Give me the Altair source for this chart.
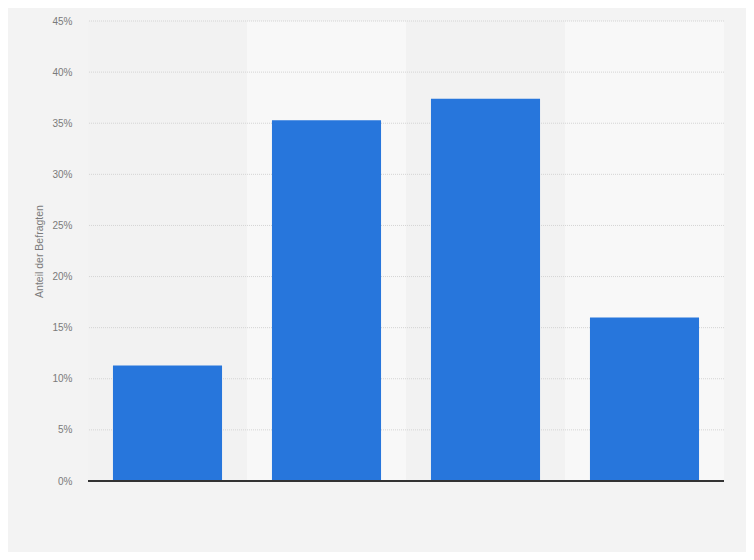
import altair as alt
import pandas as pd

categories = ["Kategorie 1", "Kategorie 2", "Kategorie 3", "Kategorie 4"]
values = [11.3, 35.3, 37.4, 16.0]
band_colors = ["#f2f2f2", "#f8f8f8", "#f2f2f2", "#f8f8f8"]
y_ticks = [0, 5, 10, 15, 20, 25, 30, 35, 40, 45]

df = pd.DataFrame({"cat": categories, "val": values, "band": band_colors, "top": [45] * 4, "zero": [0] * 4})
grid_df = pd.DataFrame({"t": [t for t in y_ticks if t > 0]})

xenc = alt.X("cat:N", sort=categories, title=None,
             scale=alt.Scale(paddingInner=0, paddingOuter=0),
             axis=alt.Axis(labels=False, ticks=False, domain=False, grid=False))
yscale = alt.Scale(domain=[0, 45], nice=False)

bands = alt.Chart(df).mark_rect().encode(
    x=xenc,
    y=alt.Y("zero:Q", scale=yscale, title="Anteil der Befragten",
            axis=alt.Axis(values=y_ticks, labelExpr="datum.value + '%'", grid=False,
                          domain=False, ticks=False, labelPadding=16,
                          labelColor="#7a7a7a", labelFontSize=10, labelFont="Liberation Sans",
                          titleColor="#7a7a7a", titleFontSize=10.5, titleFont="Liberation Sans",
                          titleFontWeight="normal", titlePadding=7)),
    y2="top:Q",
    color=alt.Color("band:N", scale=None, legend=None),
)

grid = alt.Chart(grid_df).mark_rule(color="#d4d4d4", strokeDash=[1, 1], strokeWidth=1).encode(
    y=alt.Y("t:Q", scale=yscale),
)

bars = alt.Chart(df).mark_bar(color="#2776dc", width=alt.RelativeBandSize(0.686)).encode(
    x=alt.X("cat:N", sort=categories),
    y=alt.Y("val:Q", scale=yscale),
)

zero = alt.Chart(df).mark_rule(color="#333333", strokeWidth=1.5).encode(
    y=alt.Y("zero:Q", scale=yscale),
)

chart = alt.layer(bands, grid, bars, zero).properties(
    width=636, height=460,
    autosize=alt.AutoSizeParams(type="none"),
    padding={"left": 80, "top": 13, "right": 22, "bottom": 71},
    background="#f3f3f3",
).configure_view(stroke=None)

chart.save("out.html", embed_options={"renderer": "svg", "actions": False})
